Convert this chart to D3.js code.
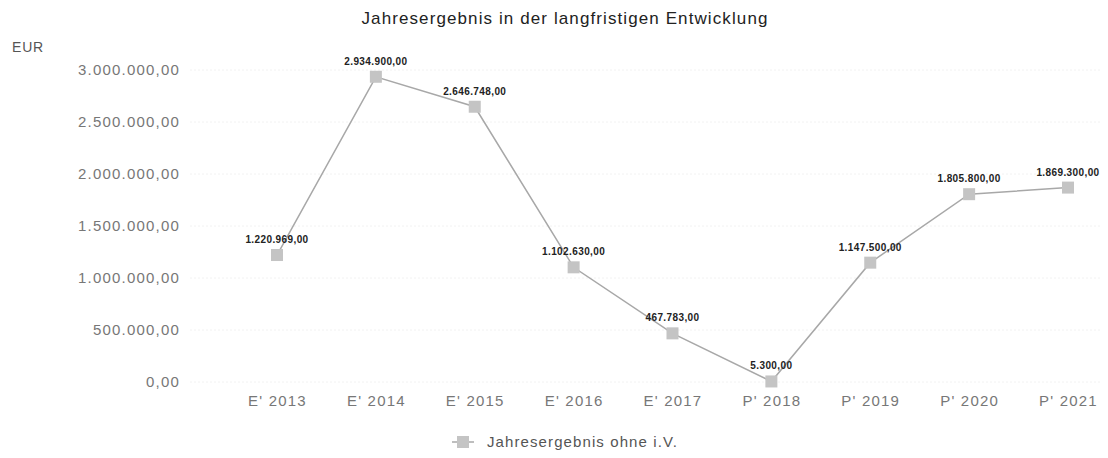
<!DOCTYPE html>
<html><head><meta charset="utf-8">
<script src="https://cdn.jsdelivr.net/npm/d3@7"></script>
<style>body{margin:0;background:#fff;font-family:"Liberation Sans",Arial,sans-serif}</style>
</head><body>
<svg id="c" width="1108" height="458"></svg>
<script>
const categories = ["E' 2013","E' 2014","E' 2015","E' 2016","E' 2017","P' 2018","P' 2019","P' 2020","P' 2021"];
const values = [1220969, 2934900, 2646748, 1102630, 467783, 5300, 1147500, 1805800, 1869300];
const valueLabels = ["1.220.969,00","2.934.900,00","2.646.748,00","1.102.630,00","467.783,00","5.300,00","1.147.500,00","1.805.800,00","1.869.300,00"];
const yTicks = [0, 500000, 1000000, 1500000, 2000000, 2500000, 3000000];
const title = "Jahresergebnis in der langfristigen Entwicklung";
const seriesName = "Jahresergebnis ohne i.V.";
const unit = "EUR";

const svg = d3.select("#c");
const fmt = v => d3.formatLocale({decimal:",",thousands:".",grouping:[3],currency:["","€"]}).format(",.2f")(v);

const x = d3.scalePoint().domain(categories).range([277, 1068]);
const y = d3.scaleLinear().domain([0, 3000000]).range([382, 70]);

svg.append("text").attr("x", 565).attr("y", 24).attr("text-anchor","middle")
  .attr("font-size", 17).attr("letter-spacing", 1.1).attr("fill","#222").text(title);
svg.append("text").attr("x", 12).attr("y", 52).attr("font-size", 14).attr("letter-spacing", 0.8).attr("fill","#555").text(unit);

// grid
svg.append("g").selectAll("line").data(yTicks).join("line")
  .attr("x1", 190).attr("x2", 1100).attr("y1", d=>y(d)).attr("y2", d=>y(d))
  .attr("stroke","#f2f2f2").attr("stroke-width",1).attr("stroke-dasharray","2,2");

// y axis
const ya = svg.append("g").attr("transform","translate(180,0)")
  .call(d3.axisLeft(y).tickValues(yTicks).tickFormat(fmt).tickSize(0).tickPadding(0));
ya.select(".domain").remove();
ya.selectAll("text").attr("font-size",15).attr("letter-spacing",1.2).attr("fill","#777").attr("font-family","Liberation Sans, Arial, sans-serif");

// x axis
const xa = svg.append("g").attr("transform","translate(0,392)")
  .call(d3.axisBottom(x).tickSize(0).tickPadding(3));
xa.select(".domain").remove();
xa.selectAll("text").attr("font-size",15).attr("letter-spacing",1.2).attr("fill","#777").attr("font-family","Liberation Sans, Arial, sans-serif");

// line
svg.append("path").datum(values)
  .attr("d", d3.line().x((d,i)=>x(categories[i])).y(d=>y(d)))
  .attr("fill","none").attr("stroke","#a8a8a8").attr("stroke-width",1.5);

// markers
svg.append("g").selectAll("rect").data(values).join("rect")
  .attr("x",(d,i)=>x(categories[i])-6).attr("y",d=>y(d)-6)
  .attr("width",12).attr("height",12).attr("fill","#c4c4c4");

// labels
svg.append("g").selectAll("text").data(values).join("text")
  .attr("x",(d,i)=>x(categories[i])).attr("y",d=>y(d)-12)
  .attr("text-anchor","middle").attr("font-size",10).attr("letter-spacing",0.4).attr("fill","#222")
  .attr("font-weight","bold")
  .text((d,i)=>valueLabels[i]);

// legend
const lg = svg.append("g");
lg.append("line").attr("x1",452).attr("x2",474).attr("y1",442).attr("y2",442).attr("stroke","#a8a8a8").attr("stroke-width",1.5);
lg.append("rect").attr("x",457).attr("y",436).attr("width",12).attr("height",12).attr("fill","#c4c4c4");
lg.append("text").attr("x",487).attr("y",447).attr("font-size",15).attr("letter-spacing",1.1).attr("fill","#555").text(seriesName);
</script>
</body></html>
